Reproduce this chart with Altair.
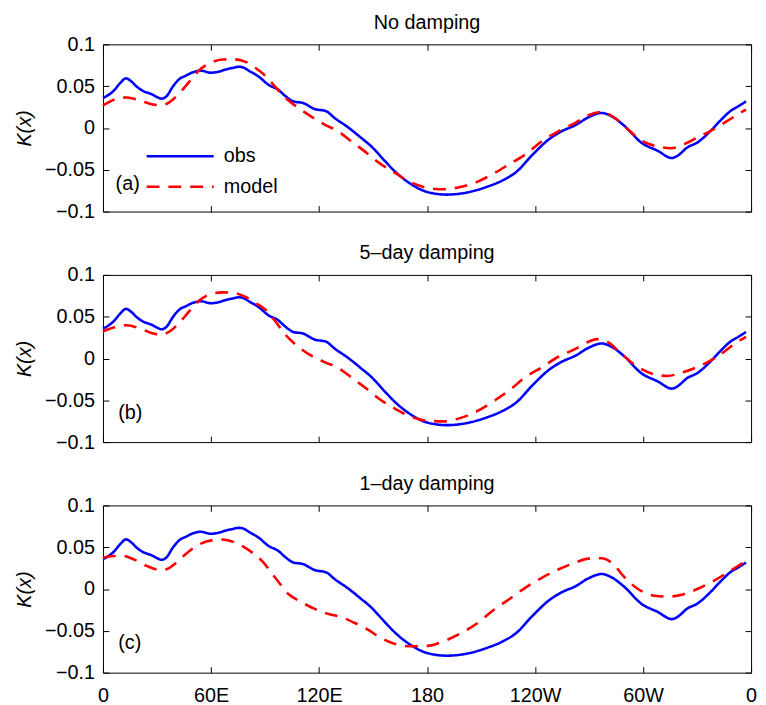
import altair as alt
import pandas as pd

FONT = "Liberation Sans"

# ---- data ----
obs_lon = [0, 5.9, 9.5, 12.8, 15.9, 18.7, 22, 26.9, 30, 32.4, 35.2, 38.8, 42.5, 46, 49.8,
           54.4, 59.9, 64, 68.2, 72, 75.5, 78.5, 81, 86.5, 92, 97.4, 101.1, 105.7, 111.2,
           117.6, 124, 128.6, 136, 143.3, 148.8, 156.1, 161.7, 170.8, 180, 191, 202, 213,
           222, 229.4, 238.6, 247.7, 255, 262.4, 269.7, 277, 282.5, 289.8, 299, 308.1, 316,
           319.1, 324.6, 330.1, 337.4, 343, 348.4, 353, 357.2]
obs_K = [0.0357, 0.0444, 0.0535, 0.0594, 0.0554, 0.0495, 0.0445, 0.0405, 0.037, 0.035,
         0.0377, 0.0495, 0.0586, 0.0625, 0.0665, 0.0685, 0.0661, 0.0672, 0.07, 0.0718,
         0.0732, 0.0718, 0.0685, 0.0614, 0.0515, 0.0456, 0.0385, 0.0318, 0.0298, 0.0227,
         0.02, 0.012, 0.001, -0.0116, -0.0215, -0.0384, -0.051, -0.0667, -0.0765, -0.0797,
         -0.0773, -0.0706, -0.0627, -0.0529, -0.032, -0.0136, -0.0037, 0.0033, 0.0128,
         0.018, 0.014, 0.0022, -0.0175, -0.0273, -0.036, -0.0333, -0.0233, -0.0175,
         -0.0037, 0.009, 0.02, 0.026, 0.0318]

model_a_lon = [0, 7.7, 13.2, 20.5, 27.8, 32.4, 37, 42.5, 48, 53.5, 59, 66.3, 71.8, 79.2, 84.6,
               90.1, 95.6, 101.1, 106.6, 114, 123.1, 130.4, 137.7, 145, 154.3, 161.7, 170.8,
               180, 189.2, 198.3, 207.5, 216.6, 225.8, 234.9, 244, 253.2, 262.4, 269.7, 277,
               284.3, 291.7, 299, 308.1, 315.5, 322.8, 330.1, 337.4, 346.6, 353.9, 357.2]
model_a_K = [0.027, 0.035, 0.0365, 0.033, 0.028, 0.027, 0.031, 0.0417, 0.0554, 0.0692, 0.0771,
             0.0818, 0.0822, 0.0791, 0.072, 0.0625, 0.0495, 0.0365, 0.027, 0.016, 0.0041,
             -0.0037, -0.0156, -0.0274, -0.0432, -0.053, -0.0648, -0.0715, -0.0734, -0.0706,
             -0.0648, -0.055, -0.0432, -0.0313, -0.0156, -0.0037, 0.0061, 0.0152, 0.0191,
             0.012, -0.0018, -0.0148, -0.0222, -0.0242, -0.0195, -0.0116, -0.0037, 0.0081,
             0.018, 0.022]

model_b_lon = [0, 5.9, 13.2, 20.5, 27.8, 32.4, 37, 42.5, 48, 53.5, 59, 66.3, 71.8, 79.2, 84.6,
               90.1, 95.6, 101.1, 106.6, 114, 123.1, 130.4, 137.7, 145, 154.3, 161.7, 170.8,
               180, 189.2, 198.3, 207.5, 216.6, 225.8, 234.9, 244, 253.2, 262.4, 269.7, 274.3,
               280.7, 288, 297.2, 306.3, 313.6, 320.9, 330.1, 337.4, 344.7, 352, 357.2]
model_b_K = [0.0323, 0.037, 0.0398, 0.0358, 0.03, 0.0283, 0.0323, 0.043, 0.0567, 0.0693,
             0.0764, 0.0791, 0.0787, 0.0736, 0.0665, 0.0587, 0.0449, 0.0291, 0.0173, 0.0055,
             -0.0043, -0.011, -0.022, -0.0339, -0.0496, -0.0594, -0.0693, -0.0744, -0.0752,
             -0.0713, -0.0634, -0.0516, -0.0378, -0.022, -0.0102, 0.0024, 0.0114, 0.02,
             0.0232, 0.0193, 0.0055, -0.0102, -0.0189, -0.0209, -0.0173, -0.0102, -0.0024,
             0.0075, 0.0193, 0.026]

model_c_lon = [0, 5.9, 11.4, 16.9, 24.2, 31.5, 35.2, 40.7, 46.2, 53.5, 60.8, 66.3, 73.7, 81,
               88.3, 95.6, 103, 110.3, 117.6, 124.9, 132.3, 139.6, 146.9, 154, 161, 170.8,
               180, 189.2, 198.3, 207.5, 216.6, 225.8, 234.9, 244, 253.2, 262.4, 269.7, 277,
               282.5, 289.8, 297.2, 306.3, 313.6, 320.9, 330.1, 339.3, 348.4, 357.2]
model_c_K = [0.0375, 0.0395, 0.0395, 0.0356, 0.0277, 0.023, 0.0237, 0.0316, 0.0423, 0.0534,
             0.0585, 0.0593, 0.0553, 0.0466, 0.0336, 0.0138, -0.0059, -0.0158, -0.0237,
             -0.0296, -0.0336, -0.0403, -0.0482, -0.058, -0.0648, -0.0684, -0.068, -0.0625,
             -0.0534, -0.0415, -0.0257, -0.0119, 0.002, 0.0138, 0.0237, 0.0316, 0.0364,
             0.0368, 0.0316, 0.0138, 0.0, -0.0079, -0.0091, -0.0071, 0.0, 0.0099, 0.0217,
             0.0336]

panel_titles = ["No damping", "5\u2013day damping", "1\u2013day damping"]
panel_labels = ["(a)", "(b)", "(c)"]
label_lon = [7.0, 8.5, 8.5]
label_K = [-0.067, -0.065, -0.065]

series_names = ["obs", "model"]
series_colors = ["#0000ff", "#ff0000"]
series_dashes = [[1, 0], [13, 9]]

x_tick_values = [0, 60, 120, 180, 240, 300, 360]
x_tick_labels = ["0", "60E", "120E", "180", "120W", "60W", "0"]
y_tick_values = [-0.1, -0.05, 0, 0.05, 0.1]

W, H = 655, 169

label_expr = "".join(f"datum.value == {v} ? '{l}' : " for v, l in zip(x_tick_values, x_tick_labels)) + "''"

models = [(model_a_lon, model_a_K), (model_b_lon, model_b_K), (model_c_lon, model_c_K)]


def make_panel(i):
    mx, my = models[i]
    obs_df = pd.DataFrame({"lon": obs_lon, "K": obs_K, "series": "obs"})
    mod_df = pd.DataFrame({"lon": mx, "K": my, "series": "model"})
    lab_df = pd.DataFrame({"lon": [label_lon[i]], "K": [label_K[i]], "text": [panel_labels[i]]})

    xs = alt.Scale(domain=[0, 360], nice=False, zero=False)
    ys = alt.Scale(domain=[-0.1, 0.1], nice=False, zero=False)

    if i == 0:
        legend = alt.Legend(orient="none", legendX=65, legendY=100, title=None,
                            symbolType="M-3,0L3,0", symbolSize=510, symbolStrokeWidth=2.6,
                            labelFont=FONT, labelFontSize=20, labelColor="black",
                            labelOffset=31, rowPadding=8, padding=0, direction="vertical")
    else:
        legend = None

    color = alt.Color("series:N", scale=alt.Scale(domain=series_names, range=series_colors), legend=legend)
    dash = alt.StrokeDash("series:N", scale=alt.Scale(domain=series_names, range=series_dashes), legend=legend)

    if i == 2:
        bottom_axis = alt.Axis(orient="bottom", values=x_tick_values, labelExpr=label_expr,
                               tickSize=6, offset=-6, labelPadding=13, title=None,
                               domain=False, labelFlush=False, grid=False)
    else:
        bottom_axis = alt.Axis(orient="bottom", values=x_tick_values, labels=False,
                               tickSize=6, offset=-6, title=None, domain=False, grid=False)
    top_axis = alt.Axis(orient="top", values=x_tick_values, labels=False, tickSize=6,
                        offset=-6, title=None, domain=False, grid=False)
    left_axis = alt.Axis(orient="left", values=y_tick_values, format="~g", tickSize=6,
                         offset=-6, labelPadding=8.5, title="K(x)", titleFontStyle="italic",
                         titleFontWeight="normal", titlePadding=10.5, domain=False,
                         labelFlush=False, grid=False)
    right_axis = alt.Axis(orient="right", values=y_tick_values, labels=False, tickSize=6,
                          offset=-6, title=None, domain=False, grid=False)

    a = alt.Chart(obs_df).mark_line(strokeWidth=2.6, interpolate="monotone").encode(
        x=alt.X("lon:Q", scale=xs, axis=bottom_axis),
        y=alt.Y("K:Q", scale=ys, axis=left_axis),
        color=color, strokeDash=dash)
    b = alt.Chart(mod_df).mark_line(strokeWidth=2.6, interpolate="monotone").encode(
        x=alt.X("lon:Q", scale=xs, axis=top_axis),
        y=alt.Y("K:Q", scale=ys, axis=right_axis),
        color=color, strokeDash=dash)
    c = alt.Chart(lab_df).mark_text(align="left", baseline="middle", fontSize=20,
                                    font=FONT, color="black").encode(
        x=alt.X("lon:Q", scale=xs, axis=None),
        y=alt.Y("K:Q", scale=ys, axis=None),
        text="text:N")

    return alt.layer(a, b, c).resolve_axis(x="independent", y="independent").properties(
        width=W, height=H,
        title=alt.TitleParams(panel_titles[i], font=FONT, fontSize=20, fontWeight="normal",
                              color="black", anchor="middle", offset=2))


chart = alt.vconcat(make_panel(0), make_panel(1), make_panel(2), spacing=20).resolve_scale(
    color="independent", strokeDash="independent"
).properties(
    padding={"left": 5, "top": 0, "right": 0, "bottom": 0}
).configure_view(
    stroke="black", strokeWidth=1
).configure_axis(
    tickColor="black", tickWidth=1, labelFont=FONT, labelFontSize=20, labelColor="black",
    titleFont=FONT, titleFontSize=20, titleColor="black"
).configure_legend(
    labelFont=FONT
)

chart.save("out.html", embed_options={"renderer": "svg", "actions": False})
